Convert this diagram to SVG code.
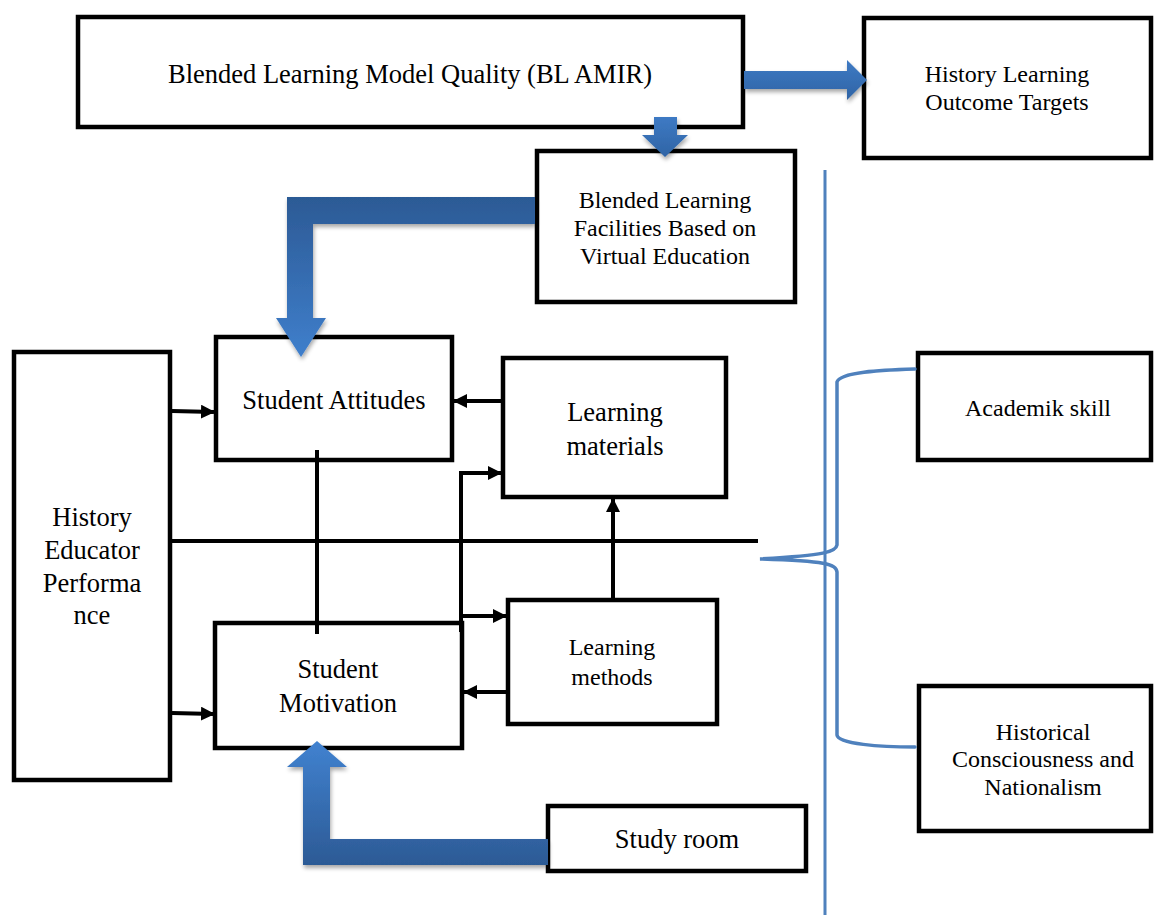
<svg xmlns="http://www.w3.org/2000/svg" width="1155" height="915" viewBox="0 0 1155 915">
<style>
.box{fill:#fff;stroke:#000;stroke-width:4.5;stroke-linejoin:miter}
.t{font-family:"Liberation Serif","Times New Roman",serif;fill:#000;text-anchor:middle}
.s26{font-size:26.5px}
.s24{font-size:24px}
.con{stroke:#000;stroke-width:4;fill:none}
.blue{stroke:#4F81BD;stroke-width:3.5;fill:none;stroke-linecap:round}
</style>
<defs>
<marker id="ah" markerUnits="userSpaceOnUse" markerWidth="14" markerHeight="14" refX="13" refY="7" orient="auto">
<path d="M0,0 L14,7 L0,14 Z" fill="#000"/>
</marker>
<linearGradient id="gv" x1="0" y1="0" x2="0" y2="1">
<stop offset="0" stop-color="#2C5A95"/>
<stop offset="1" stop-color="#3F7FCC"/>
</linearGradient>
<linearGradient id="gu" x1="0" y1="0" x2="0" y2="1">
<stop offset="0" stop-color="#4182D0"/>
<stop offset="1" stop-color="#2C5A95"/>
</linearGradient>
<linearGradient id="gh" x1="0" y1="0" x2="0" y2="1">
<stop offset="0" stop-color="#3E7AC4"/>
<stop offset="1" stop-color="#2F64A5"/>
</linearGradient>
<filter id="sh" x="-10%" y="-10%" width="130%" height="130%">
<feGaussianBlur in="SourceAlpha" stdDeviation="2"/>
<feOffset dx="1" dy="3" result="b"/>
<feComponentTransfer><feFuncA type="linear" slope="0.35"/></feComponentTransfer>
<feMerge><feMergeNode/><feMergeNode in="SourceGraphic"/></feMerge>
</filter>
</defs>
<rect width="1155" height="915" fill="#fff"/>

<g id="n-blmq">
<rect class="box" x="78" y="17" width="665" height="110"/>
<text class="t s26" x="410" y="83">Blended Learning Model Quality (BL AMIR)</text>
</g>
<g id="n-hlot">
<rect class="box" x="864" y="18" width="287" height="140"/>
<text class="t s24" x="1007" y="82">History Learning</text>
<text class="t s24" x="1007" y="110">Outcome Targets</text>
</g>
<g id="n-blf">
<rect class="box" x="537" y="151" width="258" height="151"/>
<text class="t s24" x="665" y="208">Blended Learning</text>
<text class="t s24" x="665" y="236">Facilities Based on</text>
<text class="t s24" x="665" y="264">Virtual Education</text>
</g>
<g id="n-sa">
<rect class="box" x="216" y="337" width="236" height="123"/>
<text class="t s26" x="334" y="409">Student Attitudes</text>
</g>
<g id="n-lm">
<rect class="box" x="503" y="358" width="223" height="139"/>
<text class="t s26" x="615" y="421">Learning</text>
<text class="t s26" x="615" y="455">materials</text>
</g>
<g id="n-hep">
<rect class="box" x="14" y="352" width="156" height="428"/>
<text class="t s26" x="92" y="526">History</text>
<text class="t s26" x="92" y="559">Educator</text>
<text class="t s26" x="92" y="592">Performa</text>
<text class="t s26" x="92" y="624">nce</text>
</g>
<g id="n-sm">
<rect class="box" x="215" y="623" width="247" height="125"/>
<text class="t s26" x="338" y="678">Student</text>
<text class="t s26" x="338" y="712">Motivation</text>
</g>
<g id="n-lmeth">
<rect class="box" x="508" y="600" width="209" height="124"/>
<text class="t s24" x="612" y="655">Learning</text>
<text class="t s24" x="612" y="685">methods</text>
</g>
<g id="n-sr">
<rect class="box" x="548" y="806" width="258" height="65"/>
<text class="t s26" x="677" y="848">Study room</text>
</g>
<g id="n-as">
<rect class="box" x="918" y="353" width="233" height="107"/>
<text class="t s24" x="1038" y="416">Academik skill</text>
</g>
<g id="n-hcn">
<rect class="box" x="919" y="686" width="232" height="145"/>
<text class="t s24" x="1043" y="740">Historical</text>
<text class="t s24" x="1043" y="767">Consciousness and</text>
<text class="t s24" x="1043" y="795">Nationalism</text>
</g>

<g id="connectors">
<polygon points="744,71 847,71 847,60 867,80 847,100 847,89 744,89" fill="url(#gh)" filter="url(#sh)"/>
<polygon points="654,117 677,117 677,135 688,135 665,157 642,135 654,135" fill="url(#gh)" filter="url(#sh)"/>
<polygon points="535,197 535,224 313,224 313,318 326,318 301,357 276,318 287,318 287,197" fill="url(#gv)" filter="url(#sh)"/>
<polygon points="548,839 548,865 303,865 303,767 287,767 317,741 347,767 330,767 330,839" fill="url(#gu)" filter="url(#sh)"/>
<line class="con" x1="170" y1="541" x2="758" y2="541"/>
<line class="con" x1="317" y1="450" x2="317" y2="634"/>
<polyline class="con" points="461,632 461,473 501,473" marker-end="url(#ah)"/>
<line class="con" x1="461" y1="616" x2="506" y2="616" marker-end="url(#ah)"/>
<line class="con" x1="501" y1="401" x2="454" y2="401" marker-end="url(#ah)"/>
<line class="con" x1="506" y1="692" x2="464" y2="692" marker-end="url(#ah)"/>
<line class="con" x1="172" y1="411" x2="214" y2="412" marker-end="url(#ah)"/>
<line class="con" x1="172" y1="713" x2="214" y2="714" marker-end="url(#ah)"/>
<line class="con" x1="613" y1="602" x2="613" y2="499" marker-end="url(#ah)"/>
<line x1="825" y1="170" x2="825" y2="915" stroke="#4F81BD" stroke-width="3"/>
<path class="blue" d="M915,369 C880,370 840,372 837,382 L837,545 C836,552 826,555 760,559 C826,561 836,564 837,572 L837,735 C838,744 880,747 915,747"/>
</g>
</svg>
